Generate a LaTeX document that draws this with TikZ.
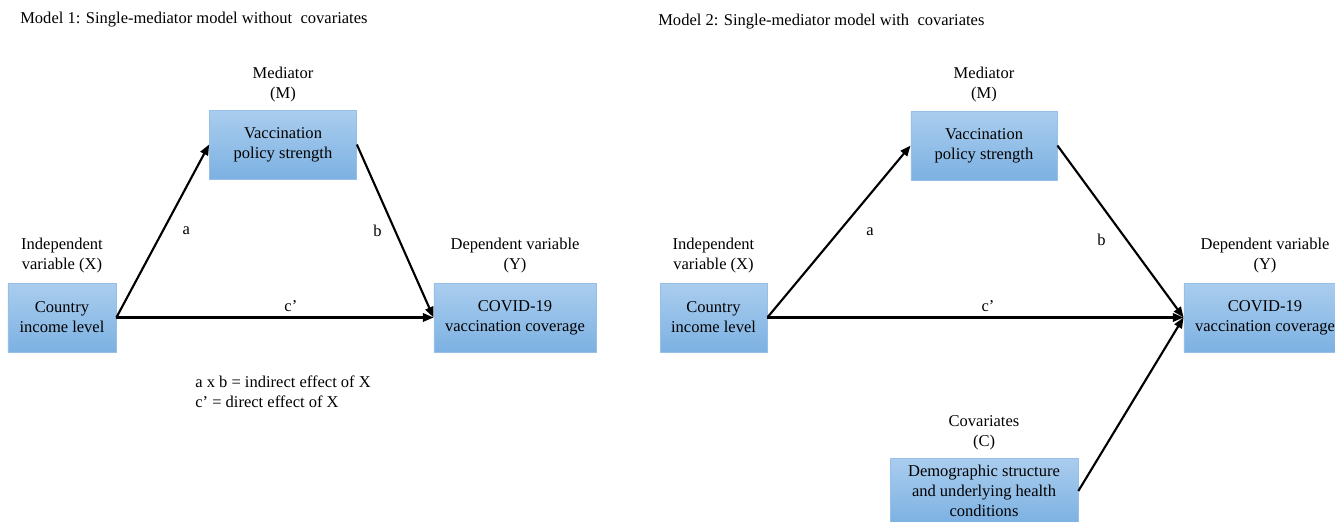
\documentclass[tikz,border=0pt]{standalone}
\usepackage{fontspec}
\setmainfont{Liberation Serif}
\newfontfamily\figfont{Liberation Serif}
\usetikzlibrary{arrows.meta}
\definecolor{boxtop}{RGB}{170,205,238}
\definecolor{boxbot}{RGB}{124,177,226}
\definecolor{boxline}{RGB}{150,192,232}
\begin{document}
\begin{tikzpicture}[x=0.66pt,y=-0.66pt,
  font=\figfont\fontsize{10.9}{13.2}\selectfont,
  varbox/.style={top color=boxtop, bottom color=boxbot, draw=boxline, line width=0.5pt, align=center, minimum height=45.5pt, inner sep=1pt},
  tag/.style={align=center, inner sep=0pt},
  effect/.style={draw, line width=1.4pt, -{Triangle[length=7pt,width=5.5pt]}}]
\useasboundingbox (0,0) rectangle (1335,522);
\fill[white] (0,0) rectangle (1335,522);
\clip (0,0) rectangle (1335,522);
\node[tag, anchor=west] (t1) at (20,20) {Model 1: Single-mediator model without\ \ covariates};
\node[tag] (m1t) at (283,85) {Mediator\\(M)};
\node[tag] (x1t) at (62,256) {Independent\\variable (X)};
\node[tag] (y1t) at (515,256) {Dependent variable\\(Y)};
\node[varbox, minimum width=97pt] (m1) at (283,144.5) {Vaccination\\policy strength};
\node[varbox, minimum width=71.3pt] (x1) at (62,317.5) {Country\\income level};
\node[varbox, minimum width=107pt] (y1) at (515,317.5) {COVID-19\\vaccination coverage};
\node[tag, anchor=west, align=left] (n1) at (195,392) {a x b = indirect effect of X\\c’ = direct effect of X};
\draw[effect] (x1.east) -- node[midway, right=9pt] {a} (m1.west);
\draw[effect] (m1.east) -- node[midway, left=5pt] {b} (y1.west);
\draw[effect] (x1.east) -- node[pos=0.55, above] {c’} (y1.west);
\node[tag, anchor=west] (t2) at (658,22) {Model 2: Single-mediator model with\ \ covariates};
\node[tag] (m2t) at (984,85) {Mediator\\(M)};
\node[tag] (x2t) at (713.5,256) {Independent\\variable (X)};
\node[tag] (y2t) at (1265,256) {Dependent variable\\(Y)};
\node[tag] (c2t) at (984,433) {Covariates\\(C)};
\node[varbox, minimum width=96.4pt] (m2) at (984,145.5) {Vaccination\\policy strength};
\node[varbox, minimum width=70.6pt] (x2) at (713.5,317.5) {Country\\income level};
\node[varbox, minimum width=107pt] (y2) at (1265,317.5) {COVID-19\\vaccination coverage};
\node[varbox, minimum width=124pt, minimum height=43pt] (c2) at (984,491) {Demographic structure\\and underlying health\\conditions};
\draw[effect] (x2.east) -- node[midway, right=14pt] {a} (m2.west);
\draw[effect] (m2.east) -- node[pos=0.55, left=10pt] {b} (y2.west);
\draw[effect] (x2.east) -- node[pos=0.53, above] {c’} (y2.west);
\draw[effect] (c2.east) -- (y2.west);
\end{tikzpicture}
\end{document}
